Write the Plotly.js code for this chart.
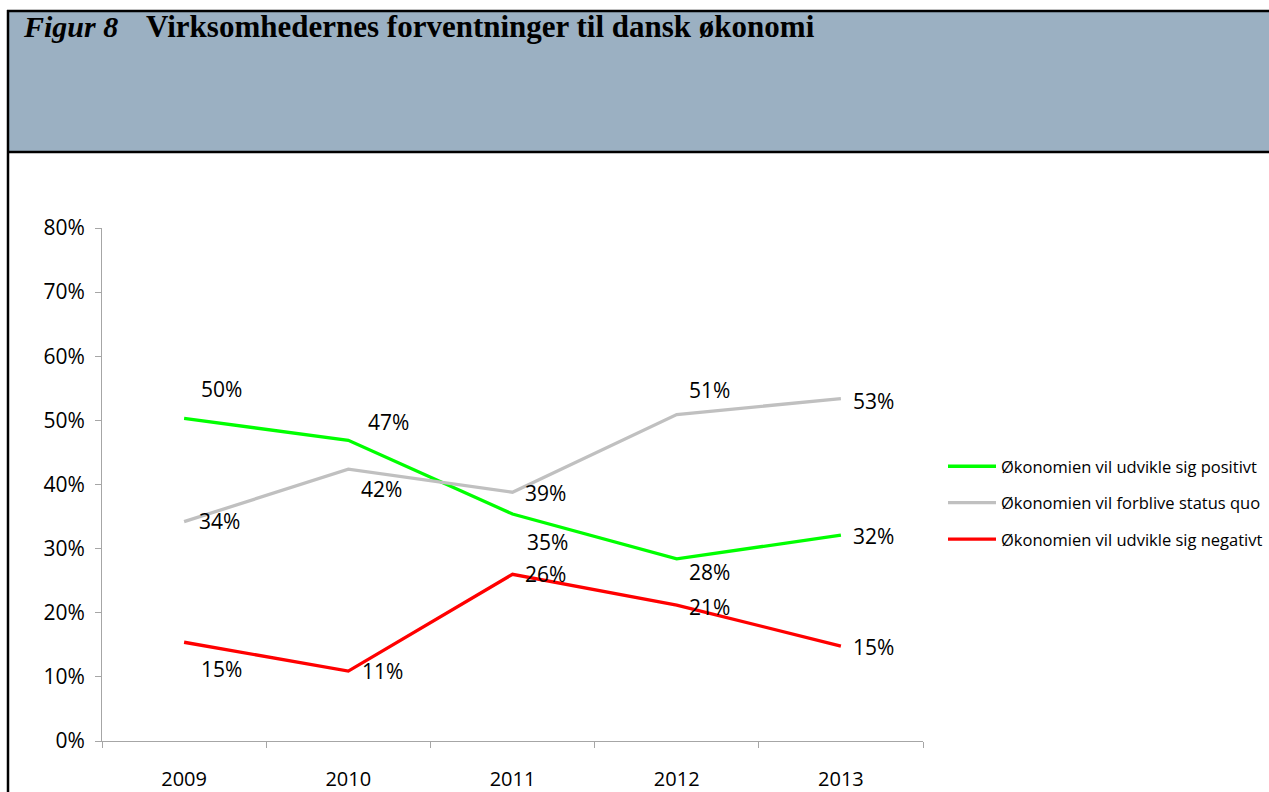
<!DOCTYPE html>
<html>
<head>
<meta charset="utf-8">
<script src="https://cdn.plot.ly/plotly-3.0.1.min.js"></script>
<style>
html,body{margin:0;padding:0;background:#fff;overflow:hidden;}
#chart{width:1269px;height:792px;}
</style>
</head>
<body>
<div id="chart"></div>
<script>
// ---- data ----
const years = ['2009', '2010', '2011', '2012', '2013'];
const seriesNames = [
  'Økonomien vil udvikle sig positivt',
  'Økonomien vil forblive status quo',
  'Økonomien vil udvikle sig negativt'
];
const positivt = [0.503, 0.469, 0.354, 0.284, 0.321];
const statusQuo = [0.342, 0.424, 0.388, 0.509, 0.534];
const negativt = [0.154, 0.109, 0.260, 0.212, 0.148];
const yTickVals = [0, 0.1, 0.2, 0.3, 0.4, 0.5, 0.6, 0.7, 0.8];
const figurLabel = 'Figur 8';
const titleText = 'Virksomhedernes forventninger til dansk økonomi';

// ---- styling / layout (not data) ----
const W = 1269, H = 792;
const M = {l: 102, r: 1269 - 923, t: 228, b: 792 - 741, autoexpand: false};
const plotW = W - M.l - M.r, plotH = H - M.t - M.b;
const px = x => (x - M.l) / plotW;
const py = y => (H - M.b - y) / plotH;

const colors = ['#00FF00', '#C0C0C0', '#FF0000'];
const seriesValues = [positivt, statusQuo, negativt];
// label offsets (pixels, right / down) for each point's data label
const labelOffsets = [
  [[37, -29], [40, -18], [35, 28], [33, 13], [33, 1]],
  [[35, -1], [33, 20], [33, 1], [33, -25], [33, 2]],
  [[37, 27], [34, 0], [33, 0], [33, 2], [33, 1]]
];
const FONT = '"Open Sans", "Noto Sans", sans-serif';

const traces = seriesValues.map((vals, s) => ({
  type: 'scatter',
  mode: 'lines',
  name: seriesNames[s],
  x: years,
  y: vals,
  legendgroup: 'g' + s,
  line: {color: colors[s], width: 3.3},
  hoverinfo: 'x+y+name'
}));

const annotations = [];
seriesValues.forEach((vals, s) => {
  vals.forEach((v, i) => {
    annotations.push({
      x: i, y: v, xref: 'x', yref: 'y',
      text: Math.round(v * 100) + '%',
      showarrow: false,
      xanchor: 'center', yanchor: 'middle',
      xshift: labelOffsets[s][i][0], yshift: -labelOffsets[s][i][1],
      font: {family: FONT, size: 21, color: '#000'}
    });
  });
});
annotations.push({
  xref: 'paper', yref: 'paper', x: px(21), y: py(27),
  xanchor: 'left', yanchor: 'middle', showarrow: false,
  text: '<b><i>' + figurLabel + '</i></b>',
  font: {family: '"Liberation Serif", "Times New Roman", serif', size: 30, color: '#000'}
});
annotations.push({
  xref: 'paper', yref: 'paper', x: px(144), y: py(27),
  xanchor: 'left', yanchor: 'middle', showarrow: false,
  text: '<b>' + titleText + '</b>',
  font: {family: '"Liberation Serif", "Times New Roman", serif', size: 31, color: '#000'}
});

const shapes = [
  {type: 'rect', xref: 'paper', yref: 'paper', x0: px(8), x1: px(1275), y0: py(11), y1: py(152),
   fillcolor: '#9BB0C2', line: {width: 0}, layer: 'below'},
  {type: 'line', xref: 'paper', yref: 'paper', x0: px(7), x1: px(1275), y0: py(11), y1: py(11),
   line: {color: '#000', width: 2.5}},
  {type: 'line', xref: 'paper', yref: 'paper', x0: px(7), x1: px(1275), y0: py(152), y1: py(152),
   line: {color: '#000', width: 2.5}},
  {type: 'line', xref: 'paper', yref: 'paper', x0: px(8), x1: px(8), y0: py(10), y1: py(800),
   line: {color: '#000', width: 2.5}}
];

const axisColor = '#A6A6A6';
const layout = {
  width: W, height: H,
  margin: M,
  paper_bgcolor: '#FFFFFF', plot_bgcolor: '#FFFFFF',
  font: {family: FONT, color: '#000'},
  showlegend: true,
  legend: {
    x: px(943), y: py(449), xanchor: 'left', yanchor: 'top',
    font: {family: FONT, size: 16.5, color: '#000'},
    bgcolor: 'rgba(0,0,0,0)', borderwidth: 0,
    tracegroupgap: 12, itemwidth: 48
  },
  xaxis: {
    type: 'category', range: [-0.5, 4.5],
    showline: true, linecolor: axisColor, linewidth: 1,
    ticks: 'outside', tickson: 'boundaries', ticklen: 6, tickcolor: axisColor,
    showgrid: false, zeroline: false,
    tickfont: {family: FONT, size: 20, color: '#000'},
    ticklabelstandoff: 20, fixedrange: true
  },
  yaxis: {
    range: [0, 0.8], tickvals: yTickVals, tickformat: '.0%',
    showline: true, linecolor: axisColor, linewidth: 1,
    ticks: 'outside', ticklen: 6, tickcolor: axisColor,
    showgrid: false, zeroline: false,
    tickfont: {family: FONT, size: 21, color: '#000'},
    ticklabelstandoff: 6, fixedrange: true
  },
  annotations: annotations,
  shapes: shapes
};

Plotly.newPlot('chart', traces, layout, {displayModeBar: false, staticPlot: true});
</script>
</body>
</html>
